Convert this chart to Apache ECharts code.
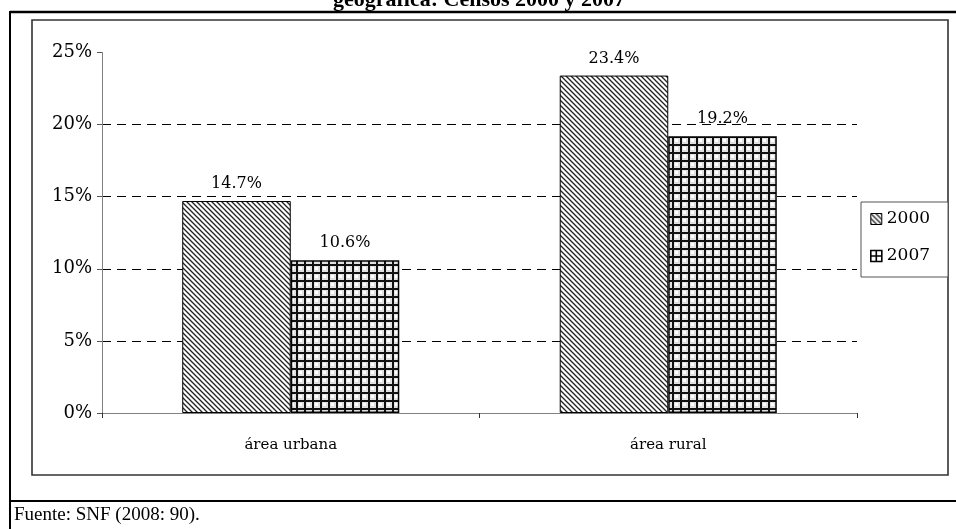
<!DOCTYPE html>
<html>
<head>
<meta charset="utf-8">
<script src="https://cdn.jsdelivr.net/npm/echarts@6/dist/echarts.min.js"></script>
<style>
  html, body { margin: 0; padding: 0; background: #fff; }
  #chart { width: 956px; height: 529px; }
</style>
</head>
<body>
<div id="chart"></div>
<script>
// Categories, series and tick values
var categories = ['área urbana', 'área rural'];
var seriesNames = ['2000', '2007'];
var values2000 = [14.7, 23.4];
var values2007 = [10.6, 19.2];
var yTicks = [0, 5, 10, 15, 20, 25];

var titleText = 'geográfica: Censos 2000 y 2007';
var sourceText = 'Fuente: SNF (2008: 90).';

// Hatch fill: diagonal stripes running top-left to bottom-right
function diagonalPattern() {
  var s = 5;
  var c = document.createElement('canvas');
  c.width = s; c.height = s;
  var g = c.getContext('2d');
  g.fillStyle = '#fff';
  g.fillRect(0, 0, s, s);
  g.strokeStyle = '#222';
  g.lineWidth = 1.3;
  g.beginPath();
  g.moveTo(-1, -1); g.lineTo(s + 1, s + 1);
  g.moveTo(-1, s - 1); g.lineTo(1, s + 1);
  g.moveTo(s - 1, -1); g.lineTo(s + 1, 1);
  g.stroke();
  return { image: c, repeat: 'repeat' };
}

// Hatch fill: square grid
function gridPattern() {
  var s = 8;
  var c = document.createElement('canvas');
  c.width = s; c.height = s;
  var g = c.getContext('2d');
  g.fillStyle = '#e0e0e0';
  g.fillRect(0, 0, s, s);
  g.fillStyle = '#fff';
  g.fillRect(3, 3, 3, 3);
  g.fillStyle = '#111';
  g.fillRect(0, 0, s, 2);
  g.fillRect(0, 0, 2, s);
  return { image: c, repeat: 'repeat' };
}

var fillA = diagonalPattern();
var fillB = gridPattern();

var chart = echarts.init(document.getElementById('chart'), null, { renderer: 'canvas' });

var serifWide = 'DejaVu Serif';
var serif = '"Liberation Serif", "Times New Roman", serif';

var option = {
  backgroundColor: '#fff',
  animation: false,
  textStyle: { fontFamily: serifWide, color: '#000' },
  grid: { left: 102, right: 99, top: 52.5, bottom: 116 },
  legend: {
    orient: 'vertical',
    left: 866,
    top: 203,
    padding: [6, 4, 6, 4],
    itemWidth: 11,
    itemHeight: 11,
    itemGap: 17,
    textStyle: { fontFamily: serifWide, fontSize: 17, color: '#000', lineHeight: 20 },
    data: [
      { name: seriesNames[0], icon: 'rect',
        itemStyle: { color: fillA, borderColor: '#000', borderWidth: 1 } },
      { name: seriesNames[1], icon: 'path://M0,0H12V12H0Z M6,0V12 M0,6H12',
        itemStyle: { color: '#fff', borderColor: '#000', borderWidth: 1.6 } }
    ]
  },
  xAxis: {
    type: 'category',
    data: categories,
    axisLine: { lineStyle: { color: '#808080', width: 1 } },
    axisTick: { show: true, length: 5, lineStyle: { color: '#333' } },
    axisLabel: { margin: 25, fontSize: 15, fontFamily: serifWide, color: '#000' }
  },
  yAxis: {
    type: 'value',
    min: yTicks[0],
    max: yTicks[yTicks.length - 1],
    interval: yTicks[1] - yTicks[0],
    axisLine: { show: true, lineStyle: { color: '#808080', width: 1 } },
    axisTick: { show: true, length: 5, lineStyle: { color: '#555' } },
    axisLabel: { margin: 10, fontSize: 18, fontFamily: serifWide, color: '#000',
      formatter: function (v) { return v + '%'; } },
    splitLine: {
      show: true, showMinLine: false, showMaxLine: false,
      lineStyle: { color: '#000', width: 1, type: [9, 6] }
    }
  },
  series: [
    {
      name: seriesNames[0],
      type: 'bar',
      data: values2000,
      barGap: '0%',
      barCategoryGap: '42.5%',
      itemStyle: { color: fillA, borderColor: '#000', borderWidth: 1 },
      label: { show: true, position: 'top', distance: 9, fontSize: 16,
        fontFamily: serifWide, color: '#000',
        formatter: function (p) { return p.value.toFixed(1) + '%'; } }
    },
    {
      name: seriesNames[1],
      type: 'bar',
      data: values2007,
      itemStyle: { color: fillB, borderColor: '#000', borderWidth: 1.5 },
      label: { show: true, position: 'top', distance: 9, fontSize: 16,
        fontFamily: serifWide, color: '#000',
        formatter: function (p) { return p.value.toFixed(1) + '%'; } }
    }
  ],
  graphic: [
    // page frame
    { type: 'line', shape: { x1: 10, y1: 12, x2: 956, y2: 12 },
      style: { stroke: '#000', lineWidth: 2.5 }, silent: true },
    { type: 'line', shape: { x1: 10, y1: 11, x2: 10, y2: 529 },
      style: { stroke: '#000', lineWidth: 2 }, silent: true },
    { type: 'line', shape: { x1: 10, y1: 501, x2: 956, y2: 501 },
      style: { stroke: '#000', lineWidth: 2 }, silent: true },
    // chart area frame
    { type: 'rect', shape: { x: 32, y: 20, width: 916, height: 455 },
      style: { fill: null, stroke: '#333', lineWidth: 1.6 }, silent: true, z: -1 },
    // legend frame
    { type: 'rect', shape: { x: 861, y: 202, width: 87, height: 75 },
      style: { fill: '#fff', stroke: '#555', lineWidth: 1 }, silent: true, z: -1 },
    // heading (partially above the page edge)
    { type: 'text', x: 479, y: 0,
      style: { text: titleText, textAlign: 'center', textVerticalAlign: 'middle',
        font: 'bold 22px ' + serif, fill: '#000' }, silent: true },
    // source note
    { type: 'text', x: 14, y: 515,
      style: { text: sourceText, textAlign: 'left', textVerticalAlign: 'middle',
        font: '19px ' + serif, fill: '#000' }, silent: true }
  ]
};

chart.setOption(option);
</script>
</body>
</html>
